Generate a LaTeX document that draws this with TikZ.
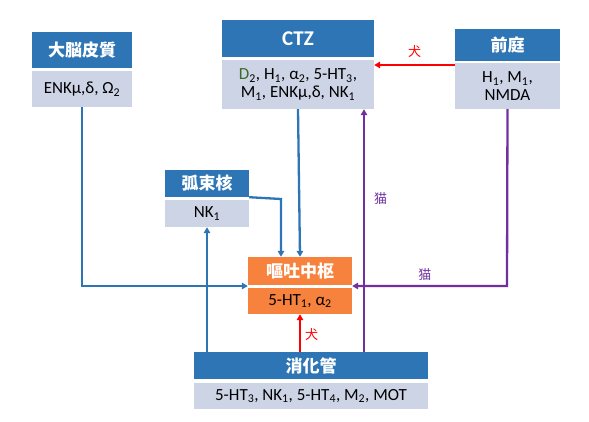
\documentclass[tikz,border=0pt]{standalone}
\usepackage{fontspec}
\setmainfont{Carlito}
\newfontfamily\cjk{Noto Sans CJK JP}
\usetikzlibrary{arrows.meta}
\definecolor{hblue}{HTML}{2E75B6}
\definecolor{lblue}{HTML}{CDD4E6}
\definecolor{orng}{HTML}{F7823D}
\definecolor{purp}{HTML}{7030A0}
\definecolor{dgreen}{HTML}{3A6B28}
\newcommand{\sub}[1]{\textsubscript{#1}}
\tikzset{
  hbox/.style={fill=hblue, text=white, inner sep=0pt, font=\cjk\bfseries\fontsize{17}{19}\selectfont},
  bbox/.style={fill=lblue, text=black, inner sep=0pt, align=center, font=\fontsize{17}{18}\selectfont},
  ohbox/.style={fill=orng, text=white, inner sep=0pt, font=\cjk\bfseries\fontsize{17}{19}\selectfont},
  obbox/.style={fill=orng, text=black, inner sep=0pt, font=\fontsize{17}{18}\selectfont},
  conn/.style={line width=2.3pt, -{Triangle[length=6pt,width=6.5pt]}},
  lab/.style={font=\cjk\fontsize{13}{15}\selectfont, inner sep=1pt},
}
\begin{document}
\begin{tikzpicture}[x=1pt,y=-1pt]
\useasboundingbox (0,0) rectangle (589,422);
% 大脳皮質
\node[hbox, minimum width=100pt, minimum height=36pt] (ctxH) at (82,50) {大脳皮質};
\node[bbox, minimum width=100pt, minimum height=36pt] (ctxB) at (82,89) {ENKμ,δ, Ω\sub{2}};
% CTZ
\node[hbox, minimum width=152pt, minimum height=37pt, font=\bfseries\fontsize{21}{23}\selectfont] (ctzH) at (298,38.5) {CTZ};
\node[bbox, minimum width=152pt, minimum height=49pt] (ctzB) at (298,84.5) {{\color{dgreen}D}\sub{2}, H\sub{1}, α\sub{2}, 5-HT\sub{3},\\ M\sub{1}, ENKμ,δ, NK\sub{1}};
% 前庭
\node[hbox, minimum width=105pt, minimum height=32pt] (vesH) at (507.5,45) {前庭};
\node[bbox, minimum width=105pt, minimum height=46pt] (vesB) at (507.5,86) {H\sub{1}, M\sub{1},\\ NMDA};
% 弧束核
\node[hbox, minimum width=84pt, minimum height=27pt] (ntsH) at (207,183.5) {弧束核};
\node[bbox, minimum width=84pt, minimum height=27pt] (ntsB) at (207,213.5) {NK\sub{1}};
% 嘔吐中枢
\node[ohbox, minimum width=104pt, minimum height=28pt] (vcH) at (300,271) {嘔吐中枢};
\node[obbox, minimum width=104pt, minimum height=26pt] (vcB) at (300,301) {5-HT\sub{1}, α\sub{2}};
% 消化管
\node[hbox, minimum width=234pt, minimum height=27pt] (giH) at (311,365.5) {消化管};
\node[bbox, minimum width=234pt, minimum height=26pt] (giB) at (311,396) {5-HT\sub{3}, NK\sub{1}, 5-HT\sub{4}, M\sub{2}, MOT};
% connectors
\coordinate (c1) at (82,286);
\draw[conn, hblue] (ctxB.south) -- (c1) -- (vcH.south west |- c1);
\draw[conn, hblue] (ctzB.south) -- (vcH.north);
\coordinate (c2) at (281,199);
\draw[conn, hblue] (ntsH.south east) -- (c2) -- (c2 |- vcH.north);
\draw[conn, hblue] (giH.north -| ntsB.south) -- (ntsB.south);
\draw[conn, red] (giH.north -| vcB.south) -- node[lab, right, text=red, pos=0.45, xshift=3pt] {犬} (vcB.south);
\coordinate (p1) at (364,352);
\draw[conn, purp] (p1) -- node[lab, right, text=purp, xshift=8pt, pos=0.63] {猫} (p1 |- ctzB.south);
\coordinate (p2) at (507,286);
\draw[conn, purp] (vesB.south) -- (p2) -- node[lab, above, text=purp, pos=0.53, yshift=3pt] {猫} (vcH.south east |- p2);
\coordinate (r1) at (455,65);
\draw[conn, red] (r1) -- node[lab, above, text=red, yshift=5pt] {犬} (ctzB.east |- r1);
\end{tikzpicture}
\end{document}
